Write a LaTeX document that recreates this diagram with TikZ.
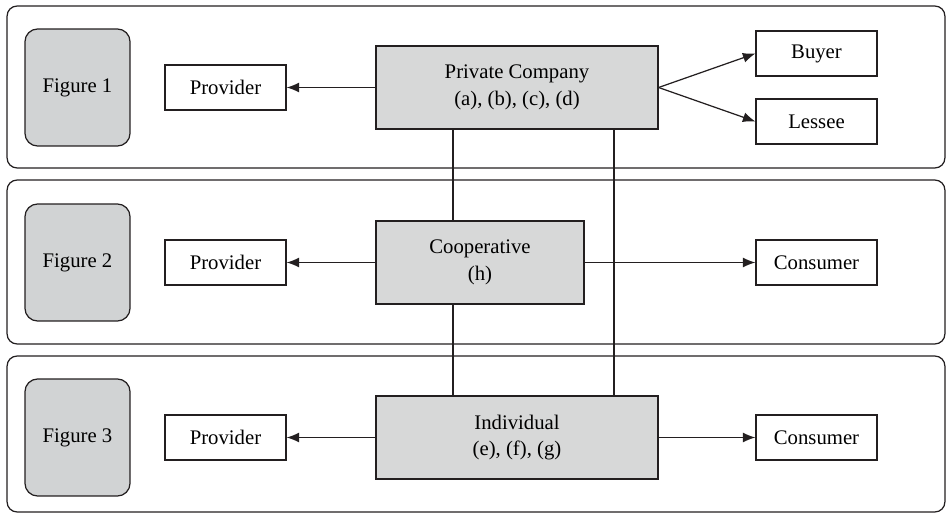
\documentclass[tikz,border=0pt]{standalone}
\usepackage{fontspec}
\setmainfont{Liberation Serif}
\usepackage{tikz}
\usetikzlibrary{arrows.meta,positioning}
\definecolor{ink}{HTML}{231F20}
\definecolor{boxgray}{HTML}{D7D8D8}
\definecolor{figgray}{HTML}{D1D3D4}

\begin{document}
\begin{tikzpicture}[
 x=0.02cm,y=-0.02cm,
 font=\fontsize{11.8}{15}\selectfont,
 band/.style={draw=ink,rounded corners=2mm,line width=0.7pt,minimum width=18.76cm},
 figbox/.style={draw=ink,fill=figgray,rounded corners=2.5mm,line width=0.7pt,minimum width=2.1cm,minimum height=2.34cm},
 party/.style={draw=ink,fill=white,line width=0.7pt,minimum width=2.42cm,minimum height=0.9cm},
 actor/.style={draw=ink,fill=boxgray,line width=0.7pt,minimum height=1.66cm,align=center},
 arr/.style={-{Latex[length=2.5mm,width=2mm]},line width=0.7pt,draw=ink},
 link/.style={line width=0.7pt,draw=ink}
]
\useasboundingbox (0,0) rectangle (947,517);
% rows
\node[band,minimum height=3.24cm] (band1) at (476,87) {};
\node[band,minimum height=3.28cm] (band2) at (476,262) {};
\node[band,minimum height=3.12cm] (band3) at (476,434) {};
\node[figbox] (fig1) at (77.5,87.5) {Figure 1};
\node[figbox] (fig2) at (77.5,262.5) {Figure 2};
\node[figbox] (fig3) at (77.5,437.5) {Figure 3};
% actors
\node[actor,minimum width=5.64cm] (company) at (517,87.5) {Private Company\\(a), (b), (c), (d)};
\node[actor,minimum width=4.16cm] (coop) at (480,262.5) {Cooperative\\(h)};
\node[actor,minimum width=5.64cm] (indiv) at (517,437.5) {Individual\\(e), (f), (g)};
% counterparts
\node[party] (prov1) at (225.5,87.5) {Provider};
\node[party] (prov2) at (225.5,262.5) {Provider};
\node[party] (prov3) at (225.5,437.5) {Provider};
\node[party] (buyer) at (816.5,53.5) {Buyer};
\node[party] (lessee) at (816.5,121.5) {Lessee};
\node[party] (cons2) at (816.5,262.5) {Consumer};
\node[party] (cons3) at (816.5,437.5) {Consumer};
\coordinate (lineA) at (453,0);
\coordinate (lineB) at (614,0);
% links
\draw[link] (company.south -| lineA) -- (coop.north -| lineA);
\draw[link] (coop.south -| lineA) -- (indiv.north -| lineA);
\draw[link] (company.south -| lineB) -- (indiv.north -| lineB);
\draw[arr] (company) -- (prov1);
\draw[arr] (coop) -- (prov2);
\draw[arr] (indiv) -- (prov3);
\draw[arr] (company.east) -- (buyer.west);
\draw[arr] (company.east) -- (lessee.west);
\draw[arr] (coop) -- (cons2);
\draw[arr] (indiv) -- (cons3);
\end{tikzpicture}
\end{document}
